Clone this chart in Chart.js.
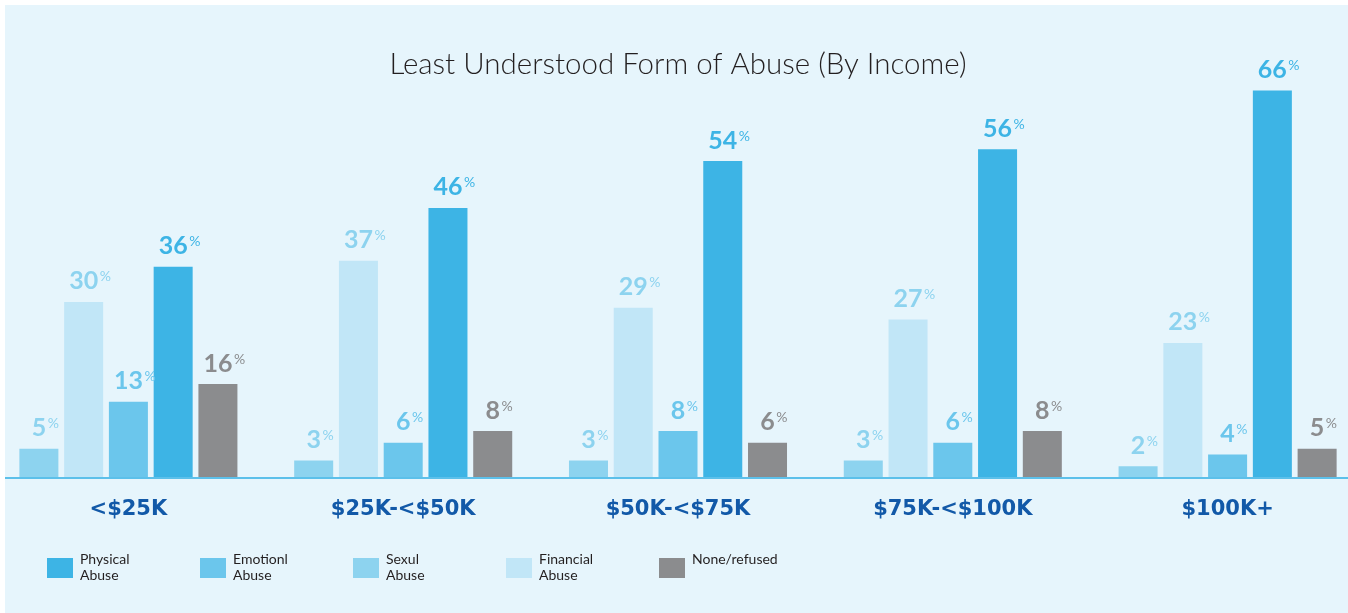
<!DOCTYPE html>
<html>
<head>
<meta charset="utf-8">
<title>Least Understood Form of Abuse (By Income)</title>
<script src="https://cdn.jsdelivr.net/npm/chart.js@4.4.1/dist/chart.umd.min.js"></script>
<style>
    body { margin: 0; background: #ffffff; overflow: hidden; width: 1348px; height: 613px; }
    #panel { position: absolute; left: 5px; top: 5px; width: 1343px; height: 608px; background: #e6f5fc; overflow: hidden; }
    #chart-box { position: absolute; left: -14px; top: -5px; width: 1374px; height: 613px; }
    .legend-item { position: absolute; top: 546px; font-family: Lato, sans-serif; font-size: 14px; line-height: 16px; color: #231f20; }
    .legend-item span { position: absolute; left: -33px; top: 7px; width: 26px; height: 20px; }
</style>
</head>
<body>
<div id="panel">
    <div id="chart-box"><canvas id="abuse-chart"></canvas></div>
    <div id="legend"></div>
</div>
<script>
    // categorias e valores
    const incomeGroups = ['<$25K', '$25K-<$50K', '$50K-<$75K', '$75K-<$100K', '$100K+'];
    const sexualAbuse = [5, 3, 3, 3, 2];
    const financialAbuse = [30, 37, 29, 27, 23];
    const emotionalAbuse = [13, 6, 8, 6, 4];
    const physicalAbuse = [36, 46, 54, 56, 66];
    const noneRefused = [16, 8, 6, 8, 5];

    const barColors = {
        physical: '#3db4e5',
        emotional: '#6bc6ec',
        sexual: '#8dd3ef',
        financial: '#c1e6f7',
        none: '#8b8c8e'
    };

    // rótulos de valor com o "%" pequeno em cima
    const valueLabels = {
        id: 'valueLabels',
        afterDatasetsDraw(chart) {
            const ctx = chart.ctx;
            chart.data.datasets.forEach((ds, i) => {
                const meta = chart.getDatasetMeta(i);
                meta.data.forEach((bar, j) => {
                    const txt = String(ds.data[j]);
                    const base = bar.y - 12.5;
                    ctx.save();
                    ctx.fillStyle = ds.labelColor;
                    ctx.font = 'bold 25px Lato';
                    ctx.textAlign = 'center';
                    ctx.textBaseline = 'alphabetic';
                    ctx.fillText(txt, bar.x, base);
                    const w = ctx.measureText(txt).width;
                    ctx.font = '14px Lato';
                    ctx.textAlign = 'left';
                    ctx.fillText('%', bar.x + w / 2 + 1.5, base - 8);
                    ctx.restore();
                });
            });
        }
    };

    const chartData = {
        labels: incomeGroups,
        datasets: [
            { label: 'Sexul Abuse', data: sexualAbuse, backgroundColor: barColors.sexual, labelColor: '#8dd3ef' },
            { label: 'Financial Abuse', data: financialAbuse, backgroundColor: barColors.financial, labelColor: '#8dd3ef' },
            { label: 'Emotionl Abuse', data: emotionalAbuse, backgroundColor: barColors.emotional, labelColor: '#6bc6ec' },
            { label: 'Physical Abuse', data: physicalAbuse, backgroundColor: barColors.physical, labelColor: '#3db4e5' },
            { label: 'None/refused', data: noneRefused, backgroundColor: barColors.none, labelColor: '#8b8c8e' }
        ]
    };

    const chartOptions = {
        responsive: true,
        maintainAspectRatio: false,
        animation: false,
        categoryPercentage: 0.8144,
        barPercentage: 0.8715,
        layout: { padding: 0 },
        plugins: {
            legend: { display: false },
            tooltip: { enabled: false },
            title: {
                display: true,
                text: 'Least Understood Form of Abuse (By Income)',
                color: '#231f20',
                font: { family: 'Lato', size: 29.5, weight: '300' },
                padding: { top: 47, bottom: 2.3 }
            }
        },
        scales: {
            x: {
                grid: { display: false },
                border: { display: true, color: '#5cc0ea', width: 2, z: 1 },
                ticks: {
                    color: '#1259a8',
                    font: { family: 'DejaVu Sans', size: 21, weight: 'bold' },
                    padding: 11
                },
                afterFit: function(scale) { scale.height = 135; }
            },
            y: {
                display: false,
                min: 0,
                max: 67
            }
        }
    };

    const ctx = document.getElementById('abuse-chart').getContext('2d');
    window.abuseChart = new Chart(ctx, {
        type: 'bar',
        data: chartData,
        options: chartOptions,
        plugins: [valueLabels]
    });

    // legenda em HTML (na ordem da imagem)
    const legendItems = [
        { text: 'Physical<br>Abuse', color: barColors.physical },
        { text: 'Emotionl<br>Abuse', color: barColors.emotional },
        { text: 'Sexul<br>Abuse', color: barColors.sexual },
        { text: 'Financial<br>Abuse', color: barColors.financial },
        { text: 'None/refused', color: barColors.none }
    ];
    const legendBox = document.getElementById('legend');
    legendItems.forEach((item, i) => {
        const div = document.createElement('div');
        div.className = 'legend-item';
        div.style.left = (75 + i * 153) + 'px';
        div.innerHTML = `<span style="background:${item.color}"></span>${item.text}`;
        legendBox.appendChild(div);
    });
</script>
</body>
</html>
